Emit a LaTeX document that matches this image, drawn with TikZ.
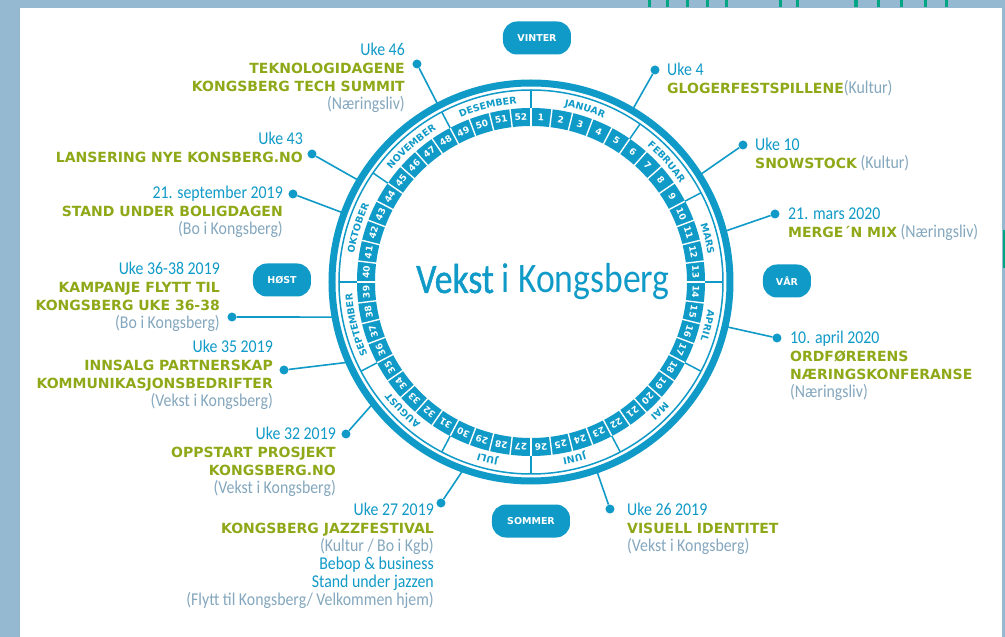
\documentclass[tikz,border=0pt]{standalone}
\usepackage{fontspec}
\setmainfont{Carlito}[FakeStretch=0.88]
\newfontfamily\capsfont{DejaVu Sans}
\newfontfamily\monthfont{DejaVu Sans}[LetterSpace=20]
\newfontfamily\vekstfont{Carlito}[FakeStretch=0.85]
\newfontfamily\vekstbold{Carlito}[FakeStretch=0.85, FakeBold=1]
\usepackage{xcolor}
\usetikzlibrary{calc,decorations.text}

\definecolor{wheelblue}{RGB}{16,154,199}
\definecolor{leafgreen}{RGB}{142,168,24}
\definecolor{notegray}{RGB}{132,167,190}
\definecolor{frameblue}{RGB}{149,185,208}
\definecolor{stripgreen}{RGB}{0,165,130}

\newcommand{\eventname}[1]{{\color{leafgreen}\capsfont\bfseries\fontsize{14}{18}\selectfont #1}}
\newcommand{\owner}[1]{{\color{notegray}#1}}
\newcommand{\monthstyle}{\monthfont\bfseries\fontsize{9.5}{9.5}\selectfont\color{wheelblue}}

\begin{document}
\begin{tikzpicture}[x=1pt, y=1pt,
    dot/.style={circle, fill=wheelblue, inner sep=0pt, minimum size=9pt},
    conn/.style={wheelblue, line width=1.6pt},
    note/.style={inner sep=0pt, text=wheelblue, font=\fontsize{18}{18}\selectfont},
    noteL/.style={note, anchor=north west, align=left},
    noteR/.style={note, anchor=north east, align=right},
    season/.style={fill=wheelblue, rounded corners=14pt, minimum height=33pt,
      inner sep=0pt, text=white, font=\capsfont\bfseries\fontsize{9.5}{10}\selectfont},
    weeknum/.style={inner sep=0pt, text=white, font=\capsfont\bfseries\fontsize{9}{9}\selectfont},
    monthlabel/.style={decorate, decoration={text along path, text align=center,
      text={|\monthstyle|#1}}}
  ]
  \coordinate (hub) at (0,0);

  % Sheet
  \useasboundingbox (-531,-355) rectangle (474,282);
  \fill[frameblue] (-531,-355) rectangle (474,282);
  \fill[white] (-511,-355) rectangle (471,274);
  \foreach \x in {650,668,688,708,727,781,798,856,878,901,925,946}
    \fill[stripgreen] (\x-532.5,282) rectangle ++(3,-7);
  \fill[stripgreen] (472,52) rectangle (474,14);

  % Wheel
  \fill[wheelblue, even odd rule] (hub) circle (174) (hub) circle (156);
  \foreach \w in {1,...,52}
    \draw[white, line width=1.4pt] ({90-360/52*\w}:155) -- ({90-360/52*\w}:175);
  \foreach \w in {5,9,13,17,22,26,30,35,39,44,48,52}
    \draw[wheelblue, line width=1.5pt] ({90-360/52*\w}:174) -- ({90-360/52*\w}:192);
  \draw[wheelblue, line width=1.5pt] (hub) circle (192);
  \draw[wheelblue, line width=7pt] (hub) circle (199);

  \foreach \w in {1,...,52}{
    \pgfmathsetmacro\a{90-360/52*(\w-0.5)}
    \node[weeknum, rotate=\a-90] (w\w) at (\a:165) {\w};
  }

  % Months
  \path[monthlabel=JANUAR] (90:179) arc[start angle=90, end angle=55.38, radius=179];
  \path[monthlabel=FEBRUAR] (55.38:179) arc[start angle=55.38, end angle=27.69, radius=179];
  \path[monthlabel=MARS] (27.69:179) arc[start angle=27.69, end angle=0, radius=179];
  \path[monthlabel=APRIL] (0:179) arc[start angle=0, end angle=-27.69, radius=179];
  \path[monthlabel=MAI] (-27.69:179) arc[start angle=-27.69, end angle=-62.31, radius=179];
  \path[monthlabel=JUNI] (-62.31:179) arc[start angle=-62.31, end angle=-90, radius=179];
  \path[monthlabel=JULI] (-90:179) arc[start angle=-90, end angle=-117.69, radius=179];
  \path[monthlabel=AUGUST] (-117.69:179) arc[start angle=-117.69, end angle=-152.31, radius=179];
  \path[monthlabel=SEPTEMBER] (-152.31:179) arc[start angle=-152.31, end angle=-180, radius=179];
  \path[monthlabel=OKTOBER] (-180:179) arc[start angle=-180, end angle=-214.62, radius=179];
  \path[monthlabel=NOVEMBER] (-214.62:179) arc[start angle=-214.62, end angle=-242.31, radius=179];
  \path[monthlabel=DESEMBER] (-242.31:179) arc[start angle=-242.31, end angle=-270, radius=179];

  \node[text=wheelblue, font=\vekstfont\fontsize{42}{42}\selectfont, anchor=base]
    (title) at (12,-11) {{\vekstbold Vekst} i Kongsberg};

  % Seasons
  \node[season, minimum width=68pt] (vinter) at (6,244) {VINTER};
  \node[season, minimum width=48pt] (vaar) at (256,1) {VÅR};
  \node[season, minimum width=58pt] (host) at (-249,2) {HØST};
  \node[season, minimum width=78pt] (sommer) at (0,-239) {SOMMER};

  % Events, right side
  \node[dot] (d4) at (124,212) {};
  \coordinate (e4) at (59.5:202);
  \draw[conn] (d4) -- (e4);
  \node[noteL] (t4) at (136,219) {Uke 4\\
    \eventname{GLOGERFESTSPILLENE}\owner{(Kultur)}};

  \node[dot] (d10) at (212,137) {};
  \coordinate (e10) at (32.4:202);
  \draw[conn] (d10) -- (e10);
  \node[noteL] (t10) at (224,144) {Uke 10\\
    \eventname{SNOWSTOCK} \owner{(Kultur)}};

  \node[dot] (dmars) at (244,68) {};
  \coordinate (emars) at (14.7:202);
  \draw[conn] (dmars) -- (emars);
  \node[noteL] (tmars) at (257,74) {21. mars 2020\\
    \eventname{MERGE´N MIX} \owner{(Næringsliv)}};

  \node[dot] (dapril) at (246,-56) {};
  \coordinate (eapril) at (-12.9:202);
  \draw[conn] (dapril) -- (eapril);
  \node[noteL] (tapril) at (259,-49) {10. april 2020\\
    \eventname{ORDFØRERENS}\\
    \eventname{NÆRINGSKONFERANSE}\\
    \owner{(Næringsliv)}};

  \node[dot] (d26) at (79,-227) {};
  \coordinate (e26) at (-70.8:202);
  \draw[conn] (d26) -- (e26);
  \node[noteL] (t26) at (96,-221) {Uke 26 2019\\
    \eventname{VISUELL IDENTITET}\\
    \owner{(Vekst i Kongsberg)}};

  % Events, left side
  \node[dot] (d27) at (-90,-221) {};
  \coordinate (e27) at (250:202);
  \draw[conn] (d27) -- (e27);
  \node[noteR] (t27) at (-97,-221) {Uke 27 2019\\
    \eventname{KONGSBERG JAZZFESTIVAL}\\
    \owner{(Kultur / Bo i Kgb)}\\
    Bebop \& business\\
    Stand under jazzen\\
    \owner{(Flytt til Kongsberg/ Velkommen hjem)}};

  \node[dot] (d32) at (-185,-152) {};
  \coordinate (e32) at (217.7:202);
  \draw[conn] (d32) -- (e32);
  \node[noteR] (t32) at (-195,-145) {Uke 32 2019\\
    \eventname{OPPSTART PROSJEKT}\\
    \eventname{KONGSBERG.NO}\\
    \owner{(Vekst i Kongsberg)}};

  \node[dot] (d35) at (-247,-88) {};
  \coordinate (e35) at (203.5:202);
  \draw[conn] (d35) -- (e35);
  \node[noteR] (t35) at (-258,-58) {Uke 35 2019\\
    \eventname{INNSALG PARTNERSKAP}\\
    \eventname{KOMMUNIKASJONSBEDRIFTER}\\
    \owner{(Vekst i Kongsberg)}};

  \node[dot] (d36) at (-299,-35) {};
  \coordinate (e36) at (190:202);
  \draw[conn] (d36) -- (e36);
  \node[noteR] (t36) at (-311,20) {Uke 36-38 2019\\
    \eventname{KAMPANJE FLYTT TIL}\\
    \eventname{KONGSBERG UKE 36-38}\\
    \owner{(Bo i Kongsberg)}};

  \node[dot] (dsept) at (-238,88) {};
  \coordinate (esept) at (159.8:202);
  \draw[conn] (dsept) -- (esept);
  \node[noteR] (tsept) at (-248,96) {21. september 2019\\
    \eventname{STAND UNDER BOLIGDAGEN}\\
    \owner{(Bo i Kongsberg)}};

  \node[dot] (d43) at (-219,128) {};
  \coordinate (e43) at (149.5:202);
  \draw[conn] (d43) -- (e43);
  \node[noteR] (t43) at (-228,150) {Uke 43\\
    \eventname{LANSERING NYE KONSBERG.NO}};

  \node[dot] (d46) at (-114,218) {};
  \coordinate (e46) at (117.7:202);
  \draw[conn] (d46) -- (e46);
  \node[noteR] (t46) at (-126,239) {Uke 46\\
    \eventname{TEKNOLOGIDAGENE}\\
    \eventname{KONGSBERG TECH SUMMIT}\\
    \owner{(Næringsliv)}};
\end{tikzpicture}
\end{document}
